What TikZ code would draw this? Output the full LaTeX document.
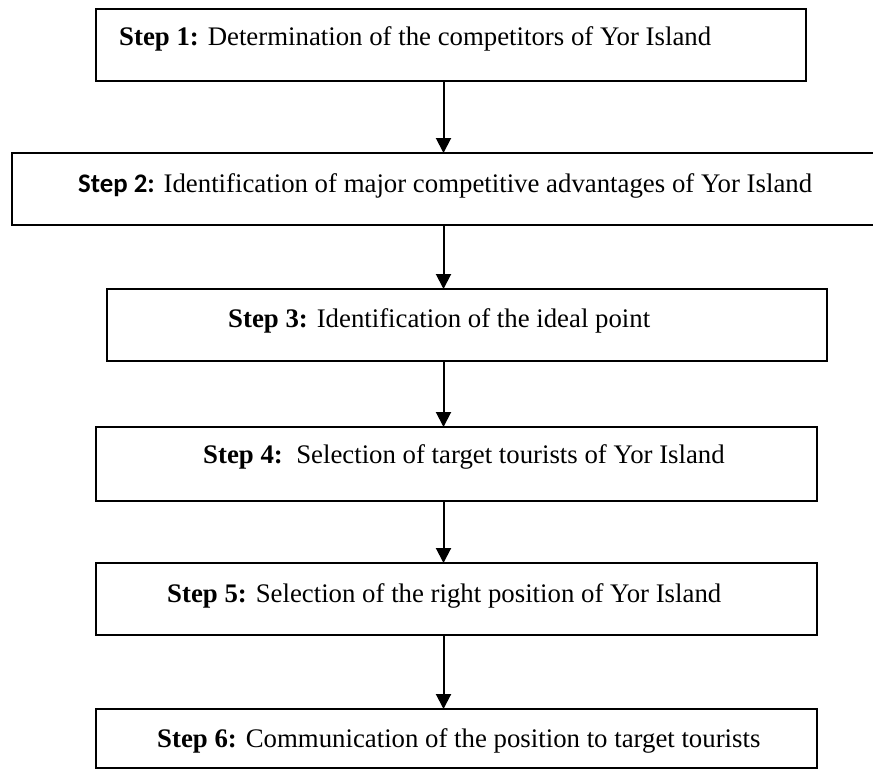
\documentclass[tikz,border=0pt]{standalone}
\usepackage{fontspec}
\setmainfont{Liberation Serif}
\newfontfamily\labelsans{Carlito}
\usetikzlibrary{arrows.meta}
\begin{document}
\begin{tikzpicture}[x=1pt,y=-1pt,
  stepbox/.style={draw=black, fill=white, line width=1.8pt, rectangle, inner sep=0pt, outer sep=0pt},
  steptext/.style={anchor=base west, inner sep=0pt, font=\fontsize{26.8}{32}\selectfont},
  flow/.style={draw=black, line width=2pt, -{Triangle[width=15pt,length=15pt]}}
]
\useasboundingbox (0,0) rectangle (873,769);
\clip (0,0) rectangle (873,769);

% step boxes
\node[stepbox, line width=2.3pt, minimum width=710pt, minimum height=72pt] (s1) at (451,45) {};
\node[stepbox, minimum width=868pt, minimum height=72pt] (s2) at (446,189) {};
\node[stepbox, minimum width=720pt, minimum height=72pt] (s3) at (467,325) {};
\node[stepbox, minimum width=721pt, minimum height=74pt] (s4) at (456.5,464) {};
\node[stepbox, minimum width=721pt, minimum height=72pt] (s5) at (456.5,599) {};
\node[stepbox, minimum width=721pt, minimum height=59pt] (s6) at (456.5,738.5) {};

% step texts
\node[steptext] (t1) at (119,45) {\textbf{Step 1:} Determination of the competitors of Yor Island};
\node[steptext] (t2) at (78,192) {{\labelsans\bfseries Step 2:} Identification of major competitive advantages of Yor Island};
\node[steptext] (t3) at (228,327) {\textbf{Step 3:} Identification of the ideal point};
\node[steptext] (t4) at (203,463) {\textbf{Step 4:}\ \ Selection of target tourists of Yor Island};
\node[steptext] (t5) at (167,602) {\textbf{Step 5:} Selection of the right position of Yor Island};
\node[steptext] (t6) at (157,747) {\textbf{Step 6:} Communication of the position to target tourists};

% connectors
\coordinate (ax) at (443.5,0);
\draw[flow] (s1.south -| ax) -- (s2.north -| ax);
\draw[flow] (s2.south -| ax) -- (s3.north -| ax);
\draw[flow] (s3.south -| ax) -- (s4.north -| ax);
\draw[flow] (s4.south -| ax) -- (s5.north -| ax);
\draw[flow] (s5.south -| ax) -- (s6.north -| ax);
\end{tikzpicture}
\end{document}
